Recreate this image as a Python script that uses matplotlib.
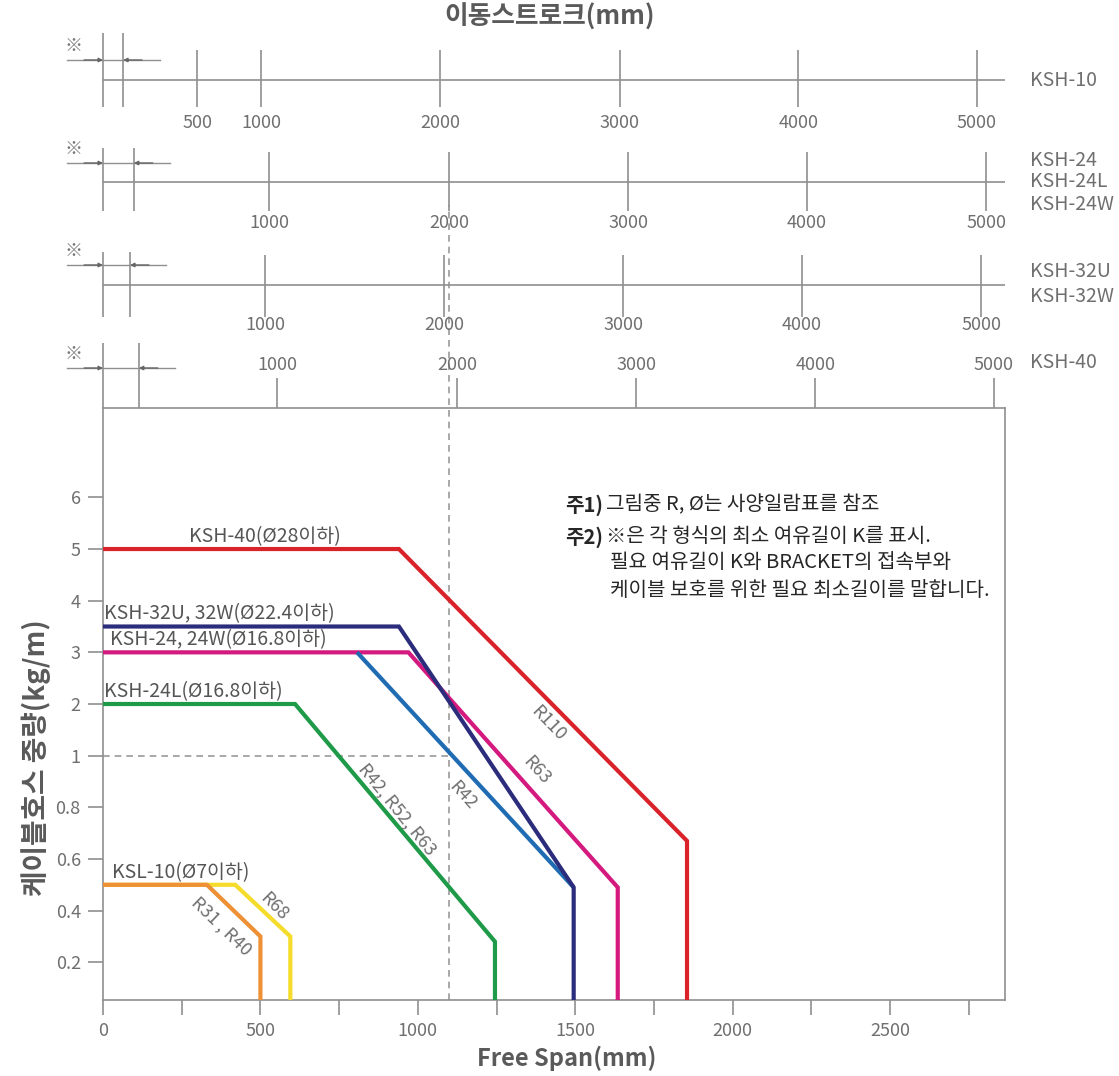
import numpy as np
import matplotlib.pyplot as plt

plt.rcParams['font.family'] = ['Noto Sans CJK KR', 'DejaVu Sans']

W, H = 1119, 1076

# free span curves (mm, kg/m)
ksh40_x = [0, 940, 1855]
ksh40_y = [5, 5, 0.67]
ksh32_x = [0, 940, 1495]
ksh32_y = [3.5, 3.5, 0.49]
ksh24_x = [0, 970, 1635]
ksh24_y = [3, 3, 0.49]
ksh24_r42_x = [807, 1495]
ksh24_r42_y = [3, 0.49]
ksh24l_x = [0, 610, 1245]
ksh24l_y = [2, 2, 0.28]
ksl10_x = [0, 330, 500]
ksl10_y = [0.5, 0.5, 0.3]
ksl10_r68_x = [0, 420, 595]
ksl10_r68_y = [0.5, 0.5, 0.3]

y_ticks = [0.2, 0.4, 0.6, 0.8, 1, 2, 3, 4, 5, 6]
y_ticklabels = ['0.2', '0.4', '0.6', '0.8', '1', '2', '3', '4', '5', '6']
x_ticks = [0, 500, 1000, 1500, 2000, 2500]

# stroke scales above the chart (stroke labels and where they sit on the free span axis)
stroke_labels = [[500, 1000, 2000, 3000, 4000, 5000],
                 [1000, 2000, 3000, 4000, 5000],
                 [1000, 2000, 3000, 4000, 5000],
                 [1000, 2000, 3000, 4000, 5000]]
stroke_pos = [[299, 502, 1070, 1642, 2208, 2776],
              [527, 1099, 1668, 2236, 2805],
              [515, 1083, 1652, 2220, 2789],
              [553, 1125, 1693, 2262, 2830]]
k_len = [64, 98, 86, 114]
model_names = [['KSH-10'], ['KSH-24', 'KSH-24L', 'KSH-24W'], ['KSH-32U', 'KSH-32W'], ['KSH-40']]

dash_x = 1100
dash_y = 1

GRAY = '#8f8f8f'
TXT = '#6f6f6f'


def fwd(v):
    v = np.asarray(v, dtype=float)
    return np.where(v <= 1, v / 0.2, v + 4)


def inv(t):
    t = np.asarray(t, dtype=float)
    return np.where(t <= 5, t * 0.2, t - 4)


def rect(x0, y0, x1, y1):
    return [x0 / W, 1 - y1 / H, (x1 - x0) / W, (y1 - y0) / H]


fig = plt.figure(figsize=(W / 100, H / 100), dpi=100)
ax = fig.add_axes(rect(103, 408, 1005, 1000))
ax.set_yscale('function', functions=(fwd, inv))
ylo, yhi = 0.054, 7.73
ax.set_xlim(0, 2865)
ax.set_ylim(ylo, yhi)

series = [
    (ksh24_x, ksh24_y, '#d4197f', True),
    (ksh24_r42_x, ksh24_r42_y, '#1f6cb3', False),
    (ksh32_x, ksh32_y, '#2c2c7c', True),
    (ksh40_x, ksh40_y, '#d9222a', True),
    (ksh24l_x, ksh24l_y, '#1e9a48', True),
    (ksl10_r68_x, ksl10_r68_y, '#f5dc2a', True),
    (ksl10_x, ksl10_y, '#ee9035', True),
]
for xs, ys, c, drop in series:
    xs = list(xs)
    ys = list(ys)
    if drop:
        xs.append(xs[-1])
        ys.append(ylo)
    ax.plot(xs, ys, color=c, lw=3, solid_joinstyle='miter', solid_capstyle='butt', zorder=3)

# dashed guide lines
ax.plot([0, dash_x], [dash_y, dash_y], color='#999999', lw=1.2, ls=(0, (4, 3)), zorder=2)
ax.plot([dash_x, dash_x], [0, (1000 - 205) / 592], transform=ax.get_xaxis_transform(),
        color='#999999', lw=1.2, ls=(0, (4, 3)), clip_on=False, zorder=2)

ax.set_yticks(y_ticks)
ax.set_yticklabels(y_ticklabels)
ax.yaxis.set_minor_locator(plt.NullLocator())
ax.set_xticks(x_ticks)
ax.set_xticks(np.arange(250, 2865, 500), minor=True)
ax.tick_params(axis='both', which='both', direction='out', length=11, width=1.2,
               color=GRAY, labelcolor=TXT, labelsize=13, pad=5)
for s in ax.spines.values():
    s.set_color(GRAY)
    s.set_linewidth(1.2)

ax.set_xlabel('Free Span(mm)', fontsize=17, fontweight='bold', color='#5a5a5a')
ax.xaxis.label.set_va('center')
ax.xaxis.set_label_coords(0.514, -0.098)
ax.set_ylabel('케이블호스 중량(kg/m)', fontsize=20, fontweight='bold', color='#5a5a5a')
ax.yaxis.label.set_va('center')
ax.yaxis.set_label_coords(-0.074, 0.409)

# curve labels
lab_kw = dict(textcoords='offset points', xytext=(0, 1.5), va='bottom',
              fontsize=14, color='#555555')
ax.annotate('KSH-40(Ø28이하)', (515, 5), ha='center', **lab_kw)
ax.annotate('KSH-32U, 32W(Ø22.4이하)', (3, 3.5), ha='left', **lab_kw)
ax.annotate('KSH-24, 24W(Ø16.8이하)', (22, 3), ha='left', **lab_kw)
ax.annotate('KSH-24L(Ø16.8이하)', (3, 2), ha='left', **lab_kw)
ax.annotate('KSL-10(Ø7이하)', (28, 0.5), ha='left', **lab_kw)

r_kw = dict(ha='center', va='center_baseline', fontsize=13, color='#707070', rotation_mode='anchor')
ax.text(1420, 1.66, 'R110', rotation=-46, **r_kw)
ax.text(1382, 0.95, 'R63', rotation=-48, **r_kw)
ax.text(1147, 0.853, 'R42', rotation=-48, **r_kw)
ax.text(937, 0.795, 'R42, R52, R63', rotation=-51, **r_kw)
ax.text(381, 0.343, 'R31 , R40', rotation=-44, **r_kw)
ax.text(546, 0.421, 'R68', rotation=-45, **r_kw)

# notes
note_kw = dict(fontsize=14.5, color='#262626', va='center')
fig.text(565 / W, 1 - 505 / H, '주1)', fontweight='bold', **note_kw)
fig.text(606 / W, 1 - 505 / H, '그림중 R, Ø는 사양일람표를 참조', **note_kw)
fig.text(565 / W, 1 - 537 / H, '주2)', fontweight='bold', **note_kw)
fig.text(606 / W, 1 - 537 / H, '※은 각 형식의 최소 여유길이 K를 표시.', **note_kw)
fig.text(610 / W, 1 - 563 / H, '필요 여유길이 K와 BRACKET의 접속부와', **note_kw)
fig.text(610 / W, 1 - 590 / H, '케이블 보호를 위한 필요 최소길이를 말합니다.', **note_kw)

fig.text(550 / W, 1 - 17 / H, '이동스트로크(mm)', ha='center', va='center',
         fontsize=18.5, fontweight='bold', color='#5a5a5a')

# stroke scale panels
lines_px = [80, 182, 285, 408]
vert_top = [-47, -34, -33, -65]
vert_bot = [27, 29, 32, 0]
tick_top = [-30, -30, -30, -30]
tick_bot = [27, 29, 32, 0]
label_off = [43, 41, 40, -43]
arrow_off = [-20, -19, -20, -40]
arrow_end = [181, 213, 200, 229]
name_off = [[0], [-22, 0, 23], [-13, 11], [-45]]

for i in range(4):
    ly = lines_px[i]
    pa = fig.add_axes(rect(103, ly - 70, 1005, ly + 50))
    pa.set_xlim(0, 2865)
    pa.set_ylim(50, -70)
    pa.axis('off')
    pa.patch.set_alpha(0)
    if i < 3:
        pa.axhline(0, color=GRAY, lw=1.2)
    pa.vlines([0, k_len[i]], vert_top[i], vert_bot[i], color=GRAY, lw=1.2, clip_on=False)
    pa.vlines(stroke_pos[i], tick_top[i], tick_bot[i], color=GRAY, lw=1.2)
    for p, s in zip(stroke_pos[i], stroke_labels[i]):
        pa.text(p, label_off[i], str(s), ha='center', va='center', fontsize=13, color=TXT)
    ay = arrow_off[i]
    pa.plot([-114, arrow_end[i]], [ay, ay], color=GRAY, lw=1, clip_on=False)
    pa.annotate('', xy=(0, ay), xytext=(-60, ay), annotation_clip=False,
                arrowprops=dict(arrowstyle='-|>', color='#666666', lw=1, mutation_scale=6,
                                shrinkA=0, shrinkB=0))
    pa.annotate('', xy=(k_len[i], ay), xytext=(k_len[i] + 60, ay), annotation_clip=False,
                arrowprops=dict(arrowstyle='-|>', color='#666666', lw=1, mutation_scale=6,
                                shrinkA=0, shrinkB=0))
    pa.text(-95, ay - 14, '※', ha='center', va='center', fontsize=13, color='#777777', clip_on=False)
    for n, off in zip(model_names[i], name_off[i]):
        fig.text(1030 / W, 1 - (ly + off) / H, n, ha='left', va='center', fontsize=14, color=TXT)

fig.savefig('out.png', dpi=100)
